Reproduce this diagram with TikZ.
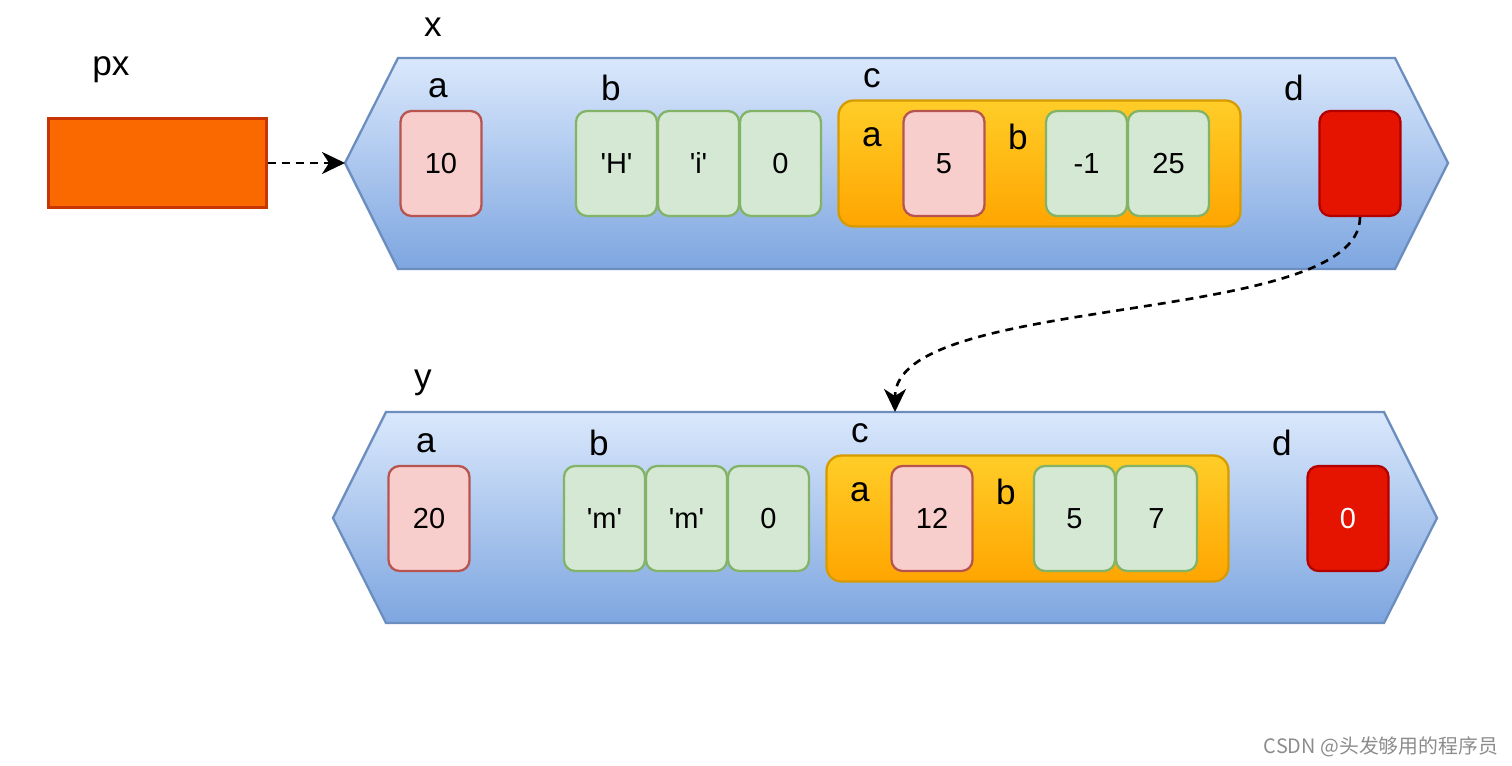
\documentclass[tikz,border=0pt]{standalone}
\usepackage{fontspec}
\setmainfont{Liberation Sans}
\newfontfamily\cjkfont{Noto Sans CJK SC}
\usetikzlibrary{arrows.meta}
\definecolor{hexTop}{HTML}{DAE8FC}
\definecolor{hexBot}{HTML}{7EA6E0}
\definecolor{hexLine}{HTML}{6C8EBF}
\definecolor{redFill}{HTML}{F8CECC}
\definecolor{redLine}{HTML}{B85450}
\definecolor{greenFill}{HTML}{D5E8D4}
\definecolor{greenLine}{HTML}{82B366}
\definecolor{orangeTop}{HTML}{FFCD28}
\definecolor{orangeBot}{HTML}{FFA500}
\definecolor{orangeLine}{HTML}{D79B00}
\definecolor{ptrFill}{HTML}{FA6800}
\definecolor{ptrLine}{HTML}{C73500}
\definecolor{darkFill}{HTML}{E51400}
\definecolor{darkLine}{HTML}{B20000}
\newcommand{\sq}{\textquotesingle}
\tikzset{
	every path/.style={line width=1.3pt},
	hexbody/.style={
		draw=hexLine,
		top color=hexTop,
		bottom color=hexBot,
	},
	cell/.style={
		draw,
		rounded corners=0.22cm,
		minimum width=1.62cm,
		minimum height=2.1cm,
		inner sep=0pt,
		font=\fontsize{16.5}{19}\selectfont,
	},
	intcell/.style={
		cell,
		draw=redLine,
		fill=redFill,
	},
	charcell/.style={
		cell,
		draw=greenLine,
		fill=greenFill,
	},
	ptrcell/.style={
		cell,
		draw=darkLine,
		fill=darkFill,
		text=white,
	},
	inner/.style={
		draw=orangeLine,
		top color=orangeTop,
		bottom color=orangeBot,
		rounded corners=0.3cm,
		minimum width=8.04cm,
		minimum height=2.52cm,
	},
	field/.style={
		inner sep=0pt,
		font=\fontsize{20}{24}\selectfont,
	},
	pointsto/.style={
		line width=1.5pt,
		dash pattern=on 4.5pt off 3.5pt,
		-{Stealth[length=0.46cm,width=0.44cm,inset=0.14cm]},
	},
}

\begin{document}
\begin{tikzpicture}[x=0.02cm,y=-0.02cm]
		\useasboundingbox (0,0) rectangle (1512,766);

		% pointer
		\node[field] (pxname) at (111,70) {px};
		\node[draw=ptrLine,fill=ptrFill,minimum width=4.36cm,minimum height=1.78cm,inner sep=0pt] (px) at (157.5,163) {};

		% struct x
		\node[field] (xname) at (433,27) {x};
		\path[hexbody] (345,163) -- (398,58) -- (1395,58) -- (1448,163) -- (1395,269) -- (398,269) -- cycle;
		\coordinate (xtip) at (345,163);

		\node[field] (xa) at (438,88) {a};
		\node[intcell] (xaval) at (441,163.5) {10};
		\node[field] (xb) at (611,88) {b};
		\node[charcell] (xb0) at (616.5,163.5) {\sq H\sq};
		\node[charcell] (xb1) at (698.5,163.5) {\sq i\sq};
		\node[charcell] (xb2) at (780.5,163.5) {0};
		\node[field] (xc) at (872,78) {c};
		\node[inner] (xcbox) at (1039.5,163.5) {};
		\node[field] (xca) at (872,137) {a};
		\node[intcell] (xcaval) at (944,163.5) {5};
		\node[field] (xcb) at (1018,137) {b};
		\node[charcell] (xcb0) at (1086.5,163.5) {-1};
		\node[charcell] (xcb1) at (1168.5,163.5) {25};
		\node[field] (xd) at (1294,88) {d};
		\node[ptrcell] (xdval) at (1360,163.5) {};

		% struct y
		\begin{scope}[shift={(-12,355)}]
		\node[field] (yname) at (435,28) {y};
		\path[hexbody] (345,163) -- (398,57) -- (1396,57) -- (1449,163) -- (1396,268) -- (398,268) -- cycle;
		\coordinate (ytop) at (907,57);

		\node[field] (ya) at (438,88) {a};
		\node[intcell] (yaval) at (441,163.5) {20};
		\node[field] (yb) at (611,88) {b};
		\node[charcell] (yb0) at (616.5,163.5) {\sq m\sq};
		\node[charcell] (yb1) at (698.5,163.5) {\sq m\sq};
		\node[charcell] (yb2) at (780.5,163.5) {0};
		\node[field] (yc) at (872,78) {c};
		\node[inner] (ycbox) at (1039.5,163.5) {};
		\node[field] (yca) at (872,137) {a};
		\node[intcell] (ycaval) at (944,163.5) {12};
		\node[field] (ycb) at (1018,137) {b};
		\node[charcell] (ycb0) at (1086.5,163.5) {5};
		\node[charcell] (ycb1) at (1168.5,163.5) {7};
		\node[field] (yd) at (1294,88) {d};
		\node[ptrcell] (ydval) at (1360,163.5) {0};
		\end{scope}

		\draw[pointsto] (px) -- (xtip);
		\draw[pointsto] (xdval.south) .. controls +(0,110) and +(0,-120) .. (ytop);

		\node[text=black!45,font=\cjkfont\fontsize{11.3}{13}\selectfont] (mark) at (1381,747) {CSDN @头发够用的程序员};
	\end{tikzpicture}
\end{document}
